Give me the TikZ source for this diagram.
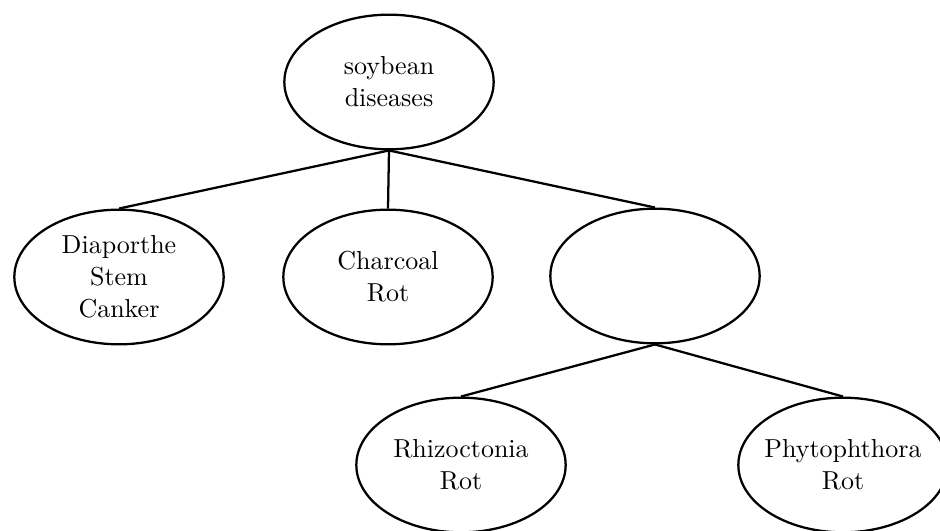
\documentclass[tikz,border=0pt]{standalone}
\usepackage{fontspec}
\usetikzlibrary{shapes.geometric}
% 10pt design size of Latin Modern, scaled up for the node labels
\newfontfamily\treefont{lmroman10-regular}[Extension=.otf]
\begin{document}
\begin{tikzpicture}[x=0.75pt,y=-0.75pt,
  disease/.style={ellipse, draw, line width=1.7pt, minimum width=157pt,
    minimum height=101pt, inner sep=0pt},
  txt/.style={align=center, font=\treefont\fontsize{19.5}{24}\selectfont, inner sep=0pt},
  branch/.style={line width=1.7pt}]
\useasboundingbox (0,0) rectangle (940,531);

% tree nodes
\node[disease, label={[txt]center:soybean\\diseases}] (root) at (389,82) {};
\node[disease, label={[txt]center:Diaporthe\\Stem\\Canker}] (diaporthe) at (119,277) {};
\node[disease, label={[txt]center:Charcoal\\Rot}] (charcoal) at (388,277) {};
\node[disease] (group) at (655,276) {};
\node[disease, label={[txt]center:Rhizoctonia\\Rot}] (rhizoctonia) at (461,465) {};
\node[disease, label={[txt]center:Phytophthora\\Rot}] (phytophthora) at (843,465) {};

% branches
\draw[branch] (root.south) -- (diaporthe.north);
\draw[branch] (root.south) -- (charcoal.north);
\draw[branch] (root.south) -- (group.north);
\draw[branch] (group.south) -- (rhizoctonia.north);
\draw[branch] (group.south) -- (phytophthora.north);
\end{tikzpicture}
\end{document}
